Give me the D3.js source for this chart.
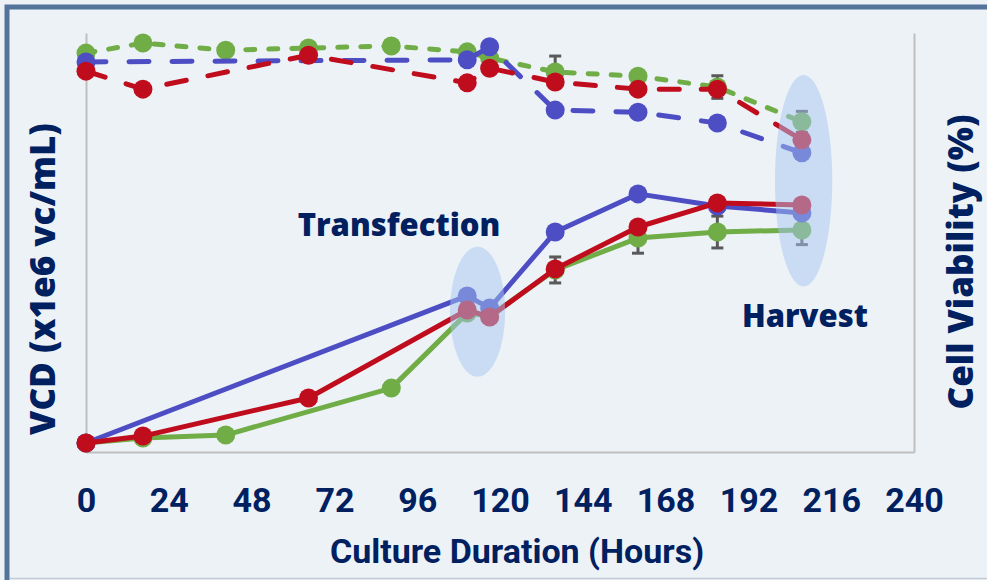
<!DOCTYPE html>
<html>
<head>
<meta charset="utf-8">
<script src="https://cdn.jsdelivr.net/npm/d3@7"></script>
<style>
  body { margin: 0; background: #eef2f6; }
  .tick text, .xtitle { font-family: "Liberation Sans Narrow", "Arial Narrow", "Roboto", sans-serif; font-weight: 700; fill: #002060; }
  .ytitle, .note { font-family: "Open Sans", "Noto Sans", sans-serif; font-weight: 800; fill: #002060; }
</style>
</head>
<body>
<script>
// sampling times (hours)
const hours = [0, 16.5, 40.5, 64.5, 88.5, 110.5, 117, 136, 160, 183, 207.5];
const xTicks = [0, 24, 48, 72, 96, 120, 144, 168, 192, 216, 240];

// viable cell density (x1e6 vc/mL), null = not sampled
const vcdGreen = [0.43, 0.67, 0.81, null, 3.05, 6.63, 6.49, 8.69, 10.21, 10.50, 10.60];
const vcdBlue  = [0.43, null, null, null, null, 7.45, 6.87, 10.50, 12.32, 11.74, 11.41];
const vcdRed   = [0.43, 0.76, null, 2.58, null, 6.78, 6.44, 8.74, 10.74, 11.89, 11.79];

// cell viability (%)
const viaGreen = [95.2, 97.6, 95.9, 96.4, 96.9, 95.5, 94.0, 90.7, 89.7, 87.1, 78.8];
const viaBlue  = [93.1, null, null, null, null, 93.6, 96.7, 81.6, 81.1, 78.5, 71.4];
const viaRed   = [90.9, 86.6, null, 94.7, null, 88.1, 91.6, 88.3, 86.6, 86.6, 74.5];

// error bars (+/-), green series only
const vcdGreenErr = [null, null, null, null, null, null, null, 0.62, 0.72, 0.76, 0.70];
const viaGreenErr = [null, null, null, null, null, null, null, 3.8, null, 2.7, 2.5];

const W = 987, H = 580;
const plot = {left: 86, right: 914, top: 33, bottom: 452};

const svg = d3.select('body').append('svg')
    .attr('width', W)
    .attr('height', H);

// frame
svg.append('rect').attr('x', 0).attr('y', 0).attr('width', W).attr('height', H).attr('fill', '#eef2f6');
svg.append('rect')
    .attr('x', 7).attr('y', 7).attr('width', W + 20).attr('height', H + 20)
    .attr('fill', '#edf2f7').attr('stroke', '#53739a').attr('stroke-width', 5);
svg.append('line')
    .attr('x1', 10).attr('x2', W).attr('y1', 578.5).attr('y2', 578.5)
    .attr('stroke', '#c3cbd6').attr('stroke-width', 1.5);

const x = d3.scaleLinear().domain([0, 240]).range([plot.left, plot.right]);
const yVcd = d3.scaleLinear().domain([0, 20]).range([plot.bottom, plot.top]);
const yVia = d3.scaleLinear().domain([0, 100]).range([plot.bottom, plot.top]);

// axes (lines only, no y ticks)
const axisStyle = g => g.select('.domain').attr('stroke', '#bfbfbf').attr('stroke-width', 2);
svg.append('g').attr('transform', `translate(${plot.left},0)`)
    .call(d3.axisLeft(yVcd).tickValues([]).tickSizeOuter(0)).call(axisStyle);
svg.append('g').attr('transform', `translate(${plot.right},0)`)
    .call(d3.axisRight(yVia).tickValues([]).tickSizeOuter(0)).call(axisStyle);
const xAxis = svg.append('g').attr('transform', `translate(0,${plot.bottom})`)
    .call(d3.axisBottom(x).tickValues(xTicks).tickSize(0).tickSizeOuter(0).tickPadding(36))
    .call(axisStyle);
xAxis.selectAll('.tick text').attr('font-size', 34);

const series = [
  {color: '#70ad47', vcd: vcdGreen, via: viaGreen, vcdErr: vcdGreenErr, viaErr: viaGreenErr, dash: '9,14'},
  {color: '#4d4dc4', vcd: vcdBlue,  via: viaBlue,  dash: '20,23'},
  {color: '#c00d1e', vcd: vcdRed,   via: viaRed,   dash: '20,22'}
];

const pts = (vals, errs) => hours.map((h, i) => ({h, v: vals[i], e: errs ? errs[i] : null}))
    .filter(d => d.v !== null);

series.forEach(s => {
  const layers = [
    {data: pts(s.vcd, s.vcdErr), y: yVcd, dash: null},
    {data: pts(s.via, s.viaErr), y: yVia, dash: s.dash}
  ];
  layers.forEach(l => {
    const line = d3.line().x(d => x(d.h)).y(d => l.y(d.v));
    svg.append('path')
        .datum(l.data)
        .attr('d', line)
        .attr('fill', 'none')
        .attr('stroke', s.color)
        .attr('stroke-width', 5)
        .attr('stroke-linecap', 'round')
        .attr('stroke-linejoin', 'round')
        .attr('stroke-dasharray', l.dash);

    const eb = svg.append('g').selectAll('g')
        .data(l.data.filter(d => d.e !== null))
        .enter().append('g')
        .attr('stroke', '#595959')
        .attr('stroke-width', 3);
    eb.append('line')
        .attr('x1', d => x(d.h)).attr('x2', d => x(d.h))
        .attr('y1', d => l.y(d.v - d.e)).attr('y2', d => l.y(d.v + d.e));
    [1, -1].forEach(sg => {
      eb.append('line')
          .attr('x1', d => x(d.h) - 6).attr('x2', d => x(d.h) + 6)
          .attr('y1', d => l.y(d.v + sg * d.e)).attr('y2', d => l.y(d.v + sg * d.e));
    });

    svg.append('g').selectAll('circle')
        .data(l.data)
        .enter().append('circle')
        .attr('cx', d => x(d.h))
        .attr('cy', d => l.y(d.v))
        .attr('r', 9.5)
        .attr('fill', s.color);
  });
});

// highlighted events (time, VCD range)
const events = [
  {label: 'Transfection', h: 113.5, hw: 8, lo: 3.6, hi: 9.8, tx: 399, ty: 236},
  {label: 'Harvest',      h: 208,   hw: 8.3, lo: 7.9, hi: 18.0, tx: 805, ty: 327}
];
events.forEach(ev => {
  svg.append('ellipse')
      .attr('cx', x(ev.h))
      .attr('cy', (yVcd(ev.lo) + yVcd(ev.hi)) / 2)
      .attr('rx', x(ev.h + ev.hw) - x(ev.h))
      .attr('ry', (yVcd(ev.lo) - yVcd(ev.hi)) / 2)
      .attr('fill', '#a5c6ef')
      .attr('fill-opacity', 0.5);
  svg.append('text')
      .attr('class', 'note')
      .attr('x', ev.tx).attr('y', ev.ty)
      .attr('text-anchor', 'middle')
      .attr('font-size', 31)
      .text(ev.label);
});

// axis titles
svg.append('text')
    .attr('class', 'xtitle')
    .attr('x', 517).attr('y', 563)
    .attr('text-anchor', 'middle')
    .attr('font-size', 34)
    .text('Culture Duration (Hours)');
svg.append('text')
    .attr('class', 'ytitle')
    .attr('transform', 'translate(55,279) rotate(-90)')
    .attr('text-anchor', 'middle')
    .attr('font-size', 35)
    .text('VCD (x1e6 vc/mL)');
svg.append('text')
    .attr('class', 'ytitle')
    .attr('transform', 'translate(973,262) rotate(-90)')
    .attr('text-anchor', 'middle')
    .attr('font-size', 35)
    .text('Cell Viability (%)');
</script>
</body>
</html>
